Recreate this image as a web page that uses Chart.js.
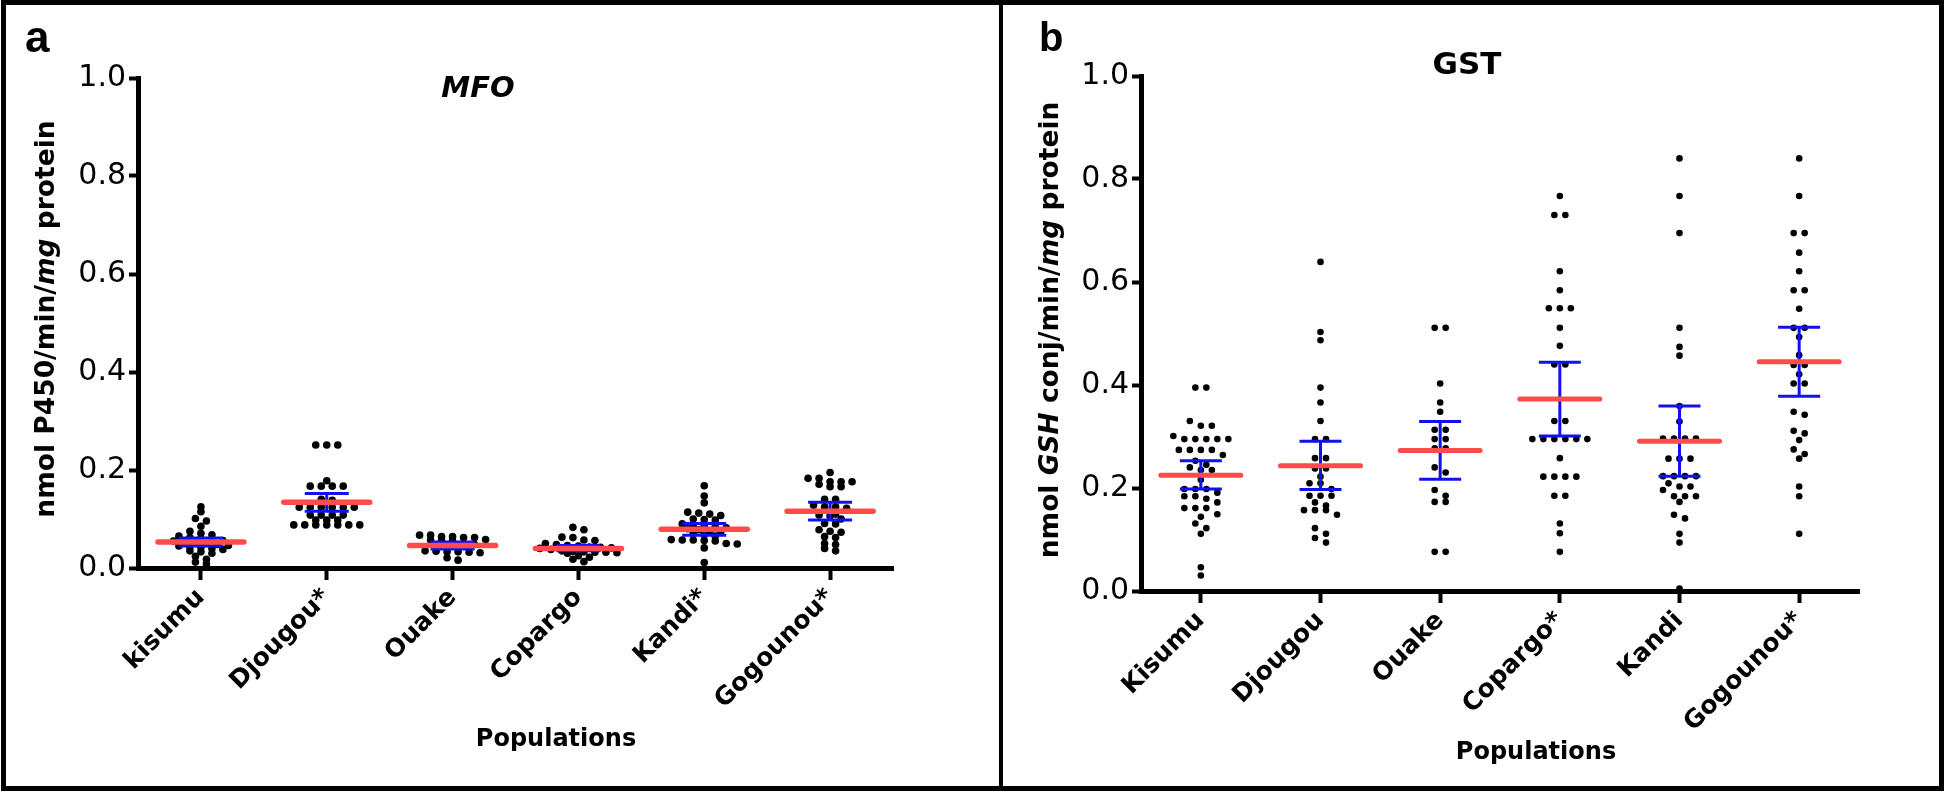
<!DOCTYPE html>
<html>
<head>
<meta charset="utf-8">
<script src="https://cdn.jsdelivr.net/npm/chart.js@4.4.1/dist/chart.umd.min.js"></script>
<style>
    html, body { margin: 0; padding: 0; background: #fff; }
    #page { position: relative; width: 1946px; height: 795px; overflow: hidden; background: #fff; }
    canvas { position: absolute; top: 0; }
    #chartA { left: 0; }
    #chartB { left: 1003px; }
    #frame { position: absolute; left: 1px; top: 0; width: 1943px; height: 791px; border: 5px solid #000; box-sizing: border-box; }
    #divider { position: absolute; left: 999px; top: 0; width: 4px; height: 791px; background: #000; }
</style>
</head>
<body>
<div id="page">
    <canvas id="chartA" width="999" height="795"></canvas>
    <canvas id="chartB" width="943" height="795"></canvas>
    <div id="frame"></div>
    <div id="divider"></div>
</div>
<script>
var FONT = '"DejaVu Sans", sans-serif';

// panel a - MFO
var mfoCategories = ['kisumu', 'Djougou*', 'Ouake', 'Copargo', 'Kandi*', 'Gogounou*'];
var mfoKisumu = [0.125, 0.115, 0.101, 0.096, 0.085, 0.075, 0.071, 0.068, 0.065, 0.062, 0.060, 0.058, 0.056, 0.055, 0.053, 0.052, 0.050, 0.048, 0.046, 0.045, 0.043, 0.042, 0.040, 0.038, 0.035, 0.033, 0.030, 0.024, 0.018, 0.012, 0.008];
var mfoDjougou = [0.251, 0.251, 0.251, 0.178, 0.167, 0.167, 0.167, 0.167, 0.140, 0.138, 0.124, 0.124, 0.124, 0.124, 0.124, 0.124, 0.108, 0.108, 0.108, 0.108, 0.098, 0.098, 0.098, 0.088, 0.088, 0.088, 0.088, 0.088, 0.088, 0.088];
var mfoOuake = [0.067, 0.067, 0.064, 0.064, 0.062, 0.062, 0.058, 0.057, 0.056, 0.055, 0.050, 0.048, 0.046, 0.045, 0.042, 0.040, 0.035, 0.034, 0.033, 0.033, 0.032, 0.031, 0.021, 0.016];
var mfoCopargo = [0.083, 0.078, 0.063, 0.062, 0.057, 0.056, 0.050, 0.048, 0.046, 0.045, 0.043, 0.042, 0.041, 0.040, 0.038, 0.035, 0.034, 0.033, 0.032, 0.032, 0.031, 0.030, 0.025, 0.022, 0.018, 0.013];
var mfoKandi = [0.168, 0.147, 0.133, 0.114, 0.112, 0.110, 0.107, 0.100, 0.099, 0.098, 0.090, 0.088, 0.086, 0.084, 0.082, 0.080, 0.078, 0.076, 0.074, 0.070, 0.068, 0.065, 0.058, 0.057, 0.057, 0.056, 0.055, 0.050, 0.049, 0.041, 0.011];
var mfoGogounou = [0.195, 0.183, 0.183, 0.176, 0.176, 0.176, 0.171, 0.166, 0.166, 0.140, 0.140, 0.128, 0.125, 0.125, 0.122, 0.118, 0.110, 0.108, 0.106, 0.100, 0.091, 0.090, 0.078, 0.075, 0.073, 0.064, 0.062, 0.050, 0.048, 0.040, 0.035];
var mfoMean = [0.053, 0.134, 0.046, 0.040, 0.079, 0.116];
var mfoSemLow = [0.045, 0.116, 0.039, 0.035, 0.067, 0.098];
var mfoSemHigh = [0.061, 0.152, 0.053, 0.046, 0.091, 0.134];

// panel b - GST
var gstCategories = ['Kisumu', 'Djougou', 'Ouake', 'Copargo*', 'Kandi', 'Gogounou*'];
var gstKisumu = [0.395, 0.395, 0.330, 0.321, 0.321, 0.301, 0.295, 0.295, 0.295, 0.295, 0.295, 0.274, 0.274, 0.274, 0.274, 0.264, 0.253, 0.245, 0.240, 0.235, 0.235, 0.216, 0.198, 0.198, 0.198, 0.191, 0.184, 0.184, 0.179, 0.172, 0.161, 0.161, 0.161, 0.149, 0.144, 0.131, 0.122, 0.111, 0.046, 0.030];
var gstDjougou = [0.639, 0.503, 0.487, 0.395, 0.366, 0.330, 0.295, 0.295, 0.258, 0.258, 0.238, 0.238, 0.222, 0.209, 0.209, 0.198, 0.185, 0.185, 0.185, 0.172, 0.166, 0.157, 0.157, 0.157, 0.148, 0.122, 0.111, 0.103, 0.094];
var gstOuake = [0.511, 0.511, 0.403, 0.366, 0.348, 0.313, 0.313, 0.295, 0.295, 0.277, 0.277, 0.240, 0.230, 0.196, 0.185, 0.173, 0.173, 0.076, 0.076];
var gstCopargo = [0.767, 0.730, 0.730, 0.621, 0.584, 0.549, 0.549, 0.549, 0.511, 0.476, 0.440, 0.440, 0.330, 0.330, 0.295, 0.295, 0.295, 0.295, 0.295, 0.295, 0.258, 0.222, 0.222, 0.222, 0.222, 0.185, 0.185, 0.131, 0.112, 0.076];
var gstKandi = [0.840, 0.767, 0.695, 0.511, 0.474, 0.457, 0.359, 0.329, 0.296, 0.296, 0.296, 0.296, 0.257, 0.257, 0.257, 0.223, 0.223, 0.223, 0.223, 0.209, 0.203, 0.203, 0.196, 0.184, 0.184, 0.184, 0.173, 0.148, 0.141, 0.111, 0.094, 0.005];
var gstGogounou = [0.840, 0.767, 0.695, 0.695, 0.657, 0.621, 0.584, 0.584, 0.548, 0.511, 0.511, 0.493, 0.458, 0.439, 0.439, 0.421, 0.403, 0.403, 0.348, 0.342, 0.311, 0.306, 0.293, 0.275, 0.266, 0.257, 0.203, 0.184, 0.111];
var gstMean = [0.225, 0.243, 0.273, 0.373, 0.291, 0.445];
var gstSemLow = [0.198, 0.197, 0.217, 0.301, 0.223, 0.378];
var gstSemHigh = [0.253, 0.291, 0.329, 0.444, 0.359, 0.512];

var yTickValues = [0, 0.2, 0.4, 0.6, 0.8, 1.0];

function drawSegments(ctx, segments, x, y, rotate) {
    ctx.save();
    ctx.translate(x, y);
    if (rotate) {
        ctx.rotate(-Math.PI / 2);
    }
    var total = 0;
    segments.forEach(function(s) {
        ctx.font = s.font;
        total += ctx.measureText(s.text).width;
    });
    var pos = -total / 2;
    ctx.textAlign = 'left';
    ctx.textBaseline = 'middle';
    ctx.fillStyle = '#000';
    segments.forEach(function(s) {
        ctx.font = s.font;
        ctx.fillText(s.text, pos, 0);
        pos += ctx.measureText(s.text).width;
    });
    ctx.restore();
}

// mean line + SEM whiskers, drawn over the dots
function meanSemPlugin(p) {
    return {
        id: 'meanSem',
        afterDatasetsDraw: function(chart) {
            var ctx = chart.ctx;
            var xs = chart.scales.x;
            var ys = chart.scales.y;
            ctx.save();
            p.mean.forEach(function(m, i) {
                var cx = xs.getPixelForValue(i);
                var yLow = ys.getPixelForValue(p.low[i]);
                var yHigh = ys.getPixelForValue(p.high[i]);
                var yMean = ys.getPixelForValue(m);
                ctx.strokeStyle = '#1010f0';
                ctx.lineWidth = p.semWidth;
                ctx.lineCap = 'butt';
                ctx.beginPath();
                ctx.moveTo(cx, yLow);
                ctx.lineTo(cx, yHigh);
                ctx.moveTo(cx - p.capHalf, yLow);
                ctx.lineTo(cx + p.capHalf, yLow);
                ctx.moveTo(cx - p.capHalf, yHigh);
                ctx.lineTo(cx + p.capHalf, yHigh);
                ctx.stroke();
                ctx.strokeStyle = '#ff4b4b';
                ctx.lineWidth = p.meanWidth;
                ctx.lineCap = 'round';
                ctx.beginPath();
                ctx.moveTo(cx - p.meanHalf, yMean);
                ctx.lineTo(cx + p.meanHalf, yMean);
                ctx.stroke();
            });
            ctx.restore();
        }
    };
}

function textPlugin(p) {
    return {
        id: 'panelText',
        afterDraw: function(chart) {
            var ctx = chart.ctx;
            ctx.save();
            ctx.fillStyle = '#000';
            ctx.textAlign = 'left';
            ctx.textBaseline = 'alphabetic';
            ctx.font = 'bold ' + p.letterSize + 'px "Liberation Sans", Arial, sans-serif';
            ctx.fillText(p.letter, p.letterX, p.letterY);
            ctx.restore();
            drawSegments(ctx, p.title, p.titleX, p.titleY, false);
            drawSegments(ctx, p.yTitle, p.yTitleX, p.yTitleY, true);
            drawSegments(ctx, [{text: 'Populations', font: 'bold 24px ' + FONT}], p.xTitleX, p.xTitleY, false);
        }
    };
}

// Prism style scatter: points of similar value share a row, centred on the category
function spreadPoints(chart, groups, spacing, binSize) {
    var xScale = chart.scales.x;
    var yScale = chart.scales.y;
    var unit = xScale.getPixelForValue(1) - xScale.getPixelForValue(0);
    groups.forEach(function(values, g) {
        var order = values.map(function(v, i) { return i; }).sort(function(a, b) { return values[b] - values[a]; });
        var xs = [];
        var row = [];
        var rowTop = null;
        var flush = function() {
            row.forEach(function(k, j) {
                xs[k] = g + (j - (row.length - 1) / 2) * spacing / unit;
            });
            row = [];
        };
        order.forEach(function(k) {
            var py = yScale.getPixelForValue(values[k]);
            if (rowTop === null || py - rowTop > binSize) {
                flush();
                rowTop = py;
            }
            row.push(k);
        });
        flush();
        chart.data.datasets[g].data = values.map(function(v, i) {
            return {x: xs[i], y: v};
        });
    });
    chart.update('none');
}

function initPanel(p) {
    var datasets = p.groups.map(function(values, g) {
        return {
            data: values.map(function(v) { return {x: g, y: v}; }),
            pointRadius: p.dotRadius,
            pointBackgroundColor: '#000',
            pointBorderWidth: 0,
            showLine: false,
            clip: false
        };
    });

    var chart = new Chart(document.getElementById(p.canvas).getContext('2d'), {
        type: 'scatter',
        data: {datasets: datasets},
        plugins: [meanSemPlugin(p), textPlugin(p)],
        options: {
            responsive: false,
            animation: false,
            devicePixelRatio: 1,
            layout: {
                padding: p.padding
            },
            plugins: {
                legend: {display: false},
                tooltip: {enabled: false}
            },
            scales: {
                x: {
                    type: 'linear',
                    min: -0.5,
                    max: 5.5,
                    afterBuildTicks: function(scale) {
                        scale.ticks = p.categories.map(function(c, i) { return {value: i}; });
                    },
                    afterFit: function(scale) {
                        scale.height = p.xHeight;
                    },
                    ticks: {
                        autoSkip: false,
                        maxRotation: 45,
                        minRotation: 45,
                        padding: 3,
                        color: '#000',
                        font: {family: FONT, size: 25, weight: 'bold'},
                        callback: function(value) {
                            return p.categories[value];
                        }
                    },
                    grid: {
                        drawOnChartArea: false,
                        drawTicks: true,
                        tickLength: 12,
                        tickWidth: 4,
                        tickColor: '#000'
                    },
                    border: {
                        display: true,
                        width: 5,
                        color: '#000'
                    }
                },
                y: {
                    min: 0,
                    max: 1,
                    afterBuildTicks: function(scale) {
                        scale.ticks = yTickValues.map(function(v) { return {value: v}; });
                    },
                    afterFit: function(scale) {
                        scale.width = p.yWidth;
                    },
                    ticks: {
                        padding: 3,
                        color: '#000',
                        font: {family: FONT, size: 30},
                        callback: function(value) {
                            return value.toFixed(1);
                        }
                    },
                    grid: {
                        drawOnChartArea: false,
                        drawTicks: true,
                        tickLength: 9,
                        tickWidth: 4,
                        tickColor: '#000'
                    },
                    border: {
                        display: true,
                        width: 5,
                        color: '#000'
                    }
                }
            }
        }
    });

    spreadPoints(chart, p.groups, p.spacing, p.binSize);
    return chart;
}

initPanel({
    canvas: 'chartA',
    categories: mfoCategories,
    groups: [mfoKisumu, mfoDjougou, mfoOuake, mfoCopargo, mfoKandi, mfoGogounou],
    mean: mfoMean,
    low: mfoSemLow,
    high: mfoSemHigh,
    padding: {left: 0, top: 78, right: 106, bottom: 0},
    yWidth: 138,
    xHeight: 227,
    dotRadius: 3.8,
    spacing: 11,
    binSize: 4.5,
    capHalf: 22,
    meanHalf: 43,
    meanWidth: 5.5,
    semWidth: 3,
    letter: 'a',
    letterSize: 44,
    letterX: 25,
    letterY: 52,
    title: [{text: 'MFO', font: 'italic bold 29px ' + FONT}],
    titleX: 478,
    titleY: 89,
    yTitle: [
        {text: 'nmol P450/min/', font: 'bold 26.5px ' + FONT},
        {text: 'mg', font: 'italic bold 26.5px ' + FONT},
        {text: ' protein', font: 'bold 26.5px ' + FONT}
    ],
    yTitleX: 47,
    yTitleY: 319,
    xTitleX: 556,
    xTitleY: 740
});

initPanel({
    canvas: 'chartB',
    categories: gstCategories,
    groups: [gstKisumu, gstDjougou, gstOuake, gstCopargo, gstKandi, gstGogounou],
    mean: gstMean,
    low: gstSemLow,
    high: gstSemHigh,
    padding: {left: 0, top: 76, right: 87, bottom: 0},
    yWidth: 138,
    xHeight: 204,
    dotRadius: 3.3,
    spacing: 11,
    binSize: 6.5,
    capHalf: 21,
    meanHalf: 40,
    meanWidth: 5,
    semWidth: 3,
    letter: 'b',
    letterSize: 40,
    letterX: 36,
    letterY: 51,
    title: [{text: 'GST', font: 'bold 31px ' + FONT}],
    titleX: 464,
    titleY: 66,
    yTitle: [
        {text: 'nmol ', font: 'bold 26.5px ' + FONT},
        {text: 'GSH', font: 'italic bold 26.5px ' + FONT},
        {text: ' conj/min/', font: 'bold 26.5px ' + FONT},
        {text: 'mg', font: 'italic bold 26.5px ' + FONT},
        {text: ' protein', font: 'bold 26.5px ' + FONT}
    ],
    yTitleX: 48,
    yTitleY: 330,
    xTitleX: 533,
    xTitleY: 753
});
</script>
</body>
</html>
